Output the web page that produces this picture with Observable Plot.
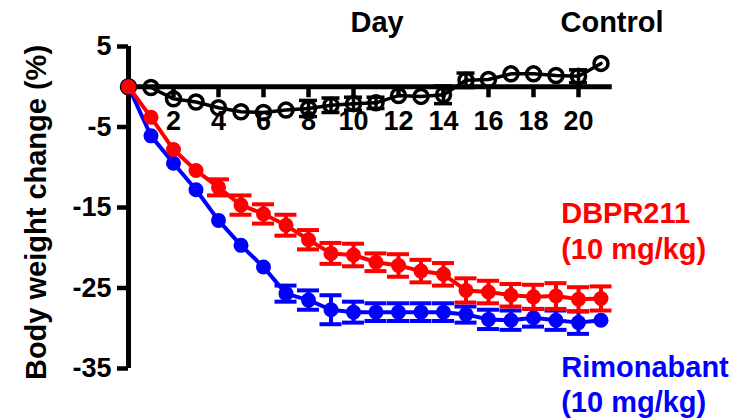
<!DOCTYPE html>
<html><head><meta charset="utf-8">
<script src="https://cdn.jsdelivr.net/npm/d3@7"></script>
<script src="https://cdn.jsdelivr.net/npm/@observablehq/plot@0.6"></script>
<style>html,body{margin:0;padding:0;background:#fff}svg{display:block}</style>
</head><body><div id="chart"></div>
<script>
const days = [0,1,2,3,4,5,6,7,8,9,10,11,12,13,14,15,16,17,18,19,20,21];
const control    = [0,-0.1,-1.5,-1.9,-2.6,-3.1,-3.2,-2.9,-2.7,-2.3,-2.1,-2.0,-1.1,-1.2,-1.0,0.8,0.9,1.6,1.6,1.4,1.3,2.9];
const controlSem = [0,0,0,0,0,0,0,0,1.0,0.9,0.8,0.7,0,0,1.1,0.9,0,0,0,0,0.8,0];
const dbpr211    = [0,-3.8,-7.8,-10.4,-12.5,-14.7,-15.8,-17.2,-19.0,-20.7,-20.9,-21.8,-22.2,-22.9,-23.3,-25.3,-25.5,-25.9,-26.1,-26.0,-26.4,-26.3];
const dbpr211Sem = [0,0,0,0,1.0,1.2,1.2,1.3,1.2,1.3,1.4,1.1,1.4,1.4,1.4,1.5,1.4,1.4,1.5,1.6,1.5,1.5];
const rimonabant    = [0,-6.1,-9.5,-12.8,-16.6,-19.7,-22.4,-25.7,-26.5,-27.7,-28.0,-28.0,-28.0,-28.0,-28.0,-28.3,-28.9,-29.0,-28.7,-29.0,-29.3,-29.0];
const rimonabantSem = [0,0,0,0,0,0,0,1.0,1.2,1.8,1.3,1.1,1.1,1.1,1.1,1.0,1.2,1.2,1.1,1.2,1.4,0];
const xTicks = [2,4,6,8,10,12,14,16,18,20];
const xTickLabels = ["2","4","6","8","10","12","14","16","18","20"];
const yTicks = [5,-5,-15,-25,-35];
const yTickLabels = ["5","-5","-15","-25","-35"];
const yLabel = "Body weight change (%)";
const xLabel = "Day";
const seriesLabels = ["Control", "DBPR211\n(10 mg/kg)", "Rimonabant\n(10 mg/kg)"];

const rows = (vals, sems) => days.map((d, i) => ({day: d, value: vals[i], sem: sems[i]}));
const ctl = rows(control, controlSem);
const dbp = rows(dbpr211, dbpr211Sem);
const rim = rows(rimonabant, rimonabantSem);

const FONT = "'Liberation Sans', Arial, Helvetica, sans-serif";

function seriesMarks(data, color, opts) {
  const sw = opts.sw;
  const bars = {filter: d => d.sem > 0, stroke: color, strokeWidth: sw};
  return [
    Plot.line(data, {x: "day", y: "value", stroke: color, strokeWidth: opts.lw}),
    Plot.ruleX(data, {...bars, x: "day", y1: d => d.value - d.sem, y2: d => d.value + d.sem}),
    Plot.ruleY(data, {...bars, y: d => d.value + d.sem, x1: "day", x2: "day", insetLeft: -opts.cap, insetRight: -opts.cap}),
    Plot.ruleY(data, {...bars, y: d => d.value - d.sem, x1: "day", x2: "day", insetLeft: -opts.cap, insetRight: -opts.cap}),
    opts.open
      ? Plot.dot(data, {x: "day", y: "value", r: opts.r, fill: "none", stroke: color, strokeWidth: 3.5})
      : Plot.dot(data, {x: "day", y: "value", r: opts.r, fill: color, stroke: "none"})
  ];
}

const chart = Plot.plot({
  width: 739,
  height: 419,
  marginLeft: 128,
  marginRight: 127.25,
  marginTop: 46,
  marginBottom: 51,
  x: {domain: [0, 21.5], axis: null},
  y: {domain: [-35, 5], axis: null},
  style: {fontFamily: FONT, background: "#fff", overflow: "visible"},
  marks: [
    // y axis
    Plot.ruleX([0], {stroke: "#000", strokeWidth: 5}),
    Plot.ruleY(yTicks, {y: d => d, x1: 0, x2: 0, insetLeft: -11, stroke: "#000", strokeWidth: 4.5}),
    Plot.text(yTicks, {x: 0, y: d => d, text: (d, i) => yTickLabels[i], textAnchor: "end", dx: -17, fontSize: 27, fontWeight: "bold", fill: "#000"}),
    // x axis at zero
    Plot.ruleY([0], {stroke: "#000", strokeWidth: 5}),
    Plot.ruleX(xTicks, {x: d => d, y1: 0, y2: 0, insetBottom: -11, stroke: "#000", strokeWidth: 4.5}),
    Plot.text(xTicks, {x: d => d, y: 0, text: (d, i) => xTickLabels[i], dy: 35, fontSize: 27, fontWeight: "bold", fill: "#000"}),
    // series
    ...seriesMarks(ctl, "#000", {sw: 3.5, lw: 3.5, cap: 9, r: 7, open: true}),
    ...seriesMarks(rim, "#0000ff", {sw: 4, lw: 4, cap: 11, r: 7.5}),
    ...seriesMarks(dbp, "#ff0000", {sw: 4, lw: 4, cap: 11, r: 7.5}),
    // labels
    Plot.text([yLabel], {frameAnchor: "left", dx: -91.5, dy: 5, rotate: -90, textAnchor: "middle", lineAnchor: "middle", fontSize: 29, fontWeight: "bold", fill: "#000"}),
    Plot.text([xLabel], {frameAnchor: "top-left", dx: 222, dy: -35, textAnchor: "start", lineAnchor: "top", fontSize: 29, fontWeight: "bold", fill: "#000"}),
    Plot.text([seriesLabels[0]], {frameAnchor: "top-left", dx: 432, dy: -35, textAnchor: "start", lineAnchor: "top", fontSize: 29, fontWeight: "bold", fill: "#000"}),
    Plot.text([seriesLabels[1]], {frameAnchor: "top-left", dx: 432.7, dy: 151, textAnchor: "start", lineAnchor: "top", lineHeight: 1.24, fontSize: 29, fontWeight: "bold", fill: "#ff0000"}),
    Plot.text([seriesLabels[2]], {frameAnchor: "top-left", dx: 432.7, dy: 305, textAnchor: "start", lineAnchor: "top", lineHeight: 1.22, fontSize: 29, fontWeight: "bold", fill: "#0000ff"})
  ]
});
document.getElementById("chart").appendChild(chart);
</script>
</body></html>
